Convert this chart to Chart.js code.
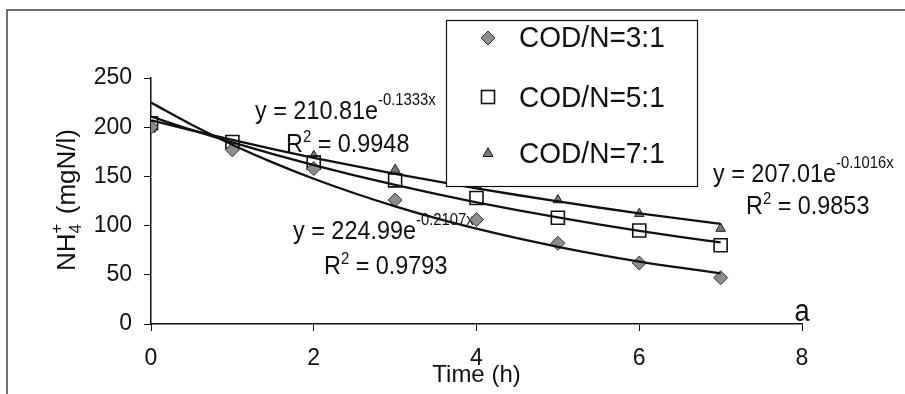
<!DOCTYPE html>
<html>
<head>
<meta charset="utf-8">
<script src="https://cdn.jsdelivr.net/npm/chart.js@4/dist/chart.umd.min.js"></script>
<style>
  html, body { margin: 0; padding: 0; background: #ffffff; }
  #wrap { width: 905px; height: 394px; position: relative; }
</style>
</head>
<body>
<div id="wrap"><canvas id="c" width="905" height="394"></canvas></div>
<script>
// ---- data ----
const timeH = [0, 1, 2, 3, 4, 5, 6, 7];
const codn3 = [200, 177, 158, 126, 106, 82, 62, 47];
const codn5 = [204, 185, 164, 146, 128, 108, 95, 80];
const codn7 = [198, 183, 171, 157, 141, 126, 112, 97];

// trend curves as traced on the picture
const fitX = [0, 0.5, 1, 1.5, 2, 2.5, 3, 3.5, 4, 4.5, 5, 5.5, 6, 6.5, 7];
const fit3 = [225.0, 202.5, 182.2, 164.0, 147.6, 132.9, 119.6, 107.6, 96.9, 87.2, 78.5, 70.6, 63.5, 57.2, 51.5];
const fit5 = [210.8, 197.2, 184.5, 172.6, 161.5, 151.1, 141.3, 132.2, 123.7, 115.7, 108.3, 101.3, 94.7, 88.6, 82.9];
const fit7 = [207.0, 196.8, 187.0, 177.7, 168.9, 160.6, 152.6, 145.1, 137.9, 131.1, 124.6, 118.4, 112.5, 107.0, 101.7];

const seriesNames = ["COD/N=3:1", "COD/N=5:1", "COD/N=7:1"];
const eqMain = ["y = 210.81e", "y = 224.99e", "y = 207.01e"];
const eqExp = ["-0.1333x", "-0.2107x", "-0.1016x"];
const eqR2 = [" = 0.9948", " = 0.9793", " = 0.9853"];
const xTitle = "Time (h)";
const yTitleParts = ["NH", "4", "+", " (mgN/l)"];
const panelLabel = "a";

const FONT = '"Liberation Sans", Arial, Helvetica, sans-serif';
const HS = 0.9;

function pts(xs, ys) { return xs.map((x, i) => ({ x: x, y: ys[i] })); }

function drawSegs(ctx, x, baseline, segs, hs) {
  ctx.save();
  ctx.translate(x, baseline);
  ctx.scale(hs, 1);
  ctx.textBaseline = 'alphabetic';
  ctx.textAlign = 'left';
  ctx.fillStyle = '#111';
  let cx = 0;
  segs.forEach(s => {
    ctx.font = s[1] + 'px ' + FONT;
    ctx.fillText(s[0], cx, s[2]);
    cx += ctx.measureText(s[0]).width;
  });
  ctx.restore();
}

const framePlugin = {
  id: 'frame',
  beforeDraw(chart) {
    const ctx = chart.ctx;
    ctx.save();
    ctx.strokeStyle = '#444';
    ctx.lineWidth = 1.5;
    ctx.beginPath();
    ctx.moveTo(7, 394);
    ctx.lineTo(7, 10);
    ctx.lineTo(905, 10);
    ctx.stroke();
    ctx.restore();
  }
};

const textPlugin = {
  id: 'eqText',
  beforeDatasetsDraw(chart) {
    const ctx = chart.ctx;
    const eqPos = [[255, 119, 286, 152], [293, 239, 324, 274], [713, 182, 746, 214]];
    eqPos.forEach((p, i) => {
      drawSegs(ctx, p[0], p[1], [[eqMain[i], 26, 0], [eqExp[i], 16.5, -14]], HS);
      drawSegs(ctx, p[2], p[3], [["R", 26, 0], ["2", 16.5, -10], [eqR2[i], 26, 0]], HS);
    });
    ctx.save();
    ctx.translate(802, 321);
    ctx.scale(0.88, 1);
    ctx.font = '31px ' + FONT;
    ctx.fillStyle = '#111';
    ctx.textAlign = 'center';
    ctx.fillText(panelLabel, 0, 0);
    ctx.restore();
    // y title with sub/superscript
    ctx.save();
    ctx.translate(67, 201);
    ctx.rotate(-Math.PI / 2);
    ctx.fillStyle = '#111';
    ctx.textBaseline = 'alphabetic';
    ctx.textAlign = 'left';
    const big = '26px ' + FONT, small = '17px ' + FONT;
    ctx.font = big;
    const w1 = ctx.measureText(yTitleParts[0]).width;
    const w4 = ctx.measureText(yTitleParts[3]).width;
    ctx.font = small;
    const w2 = Math.max(ctx.measureText(yTitleParts[1]).width, ctx.measureText(yTitleParts[2]).width);
    const total = w1 + w2 + w4;
    let x = -total / 2;
    const bl = 8;
    ctx.font = big;
    ctx.fillText(yTitleParts[0], x, bl);
    x += w1;
    ctx.font = small;
    ctx.fillText(yTitleParts[1], x, bl + 6);
    ctx.fillText(yTitleParts[2], x, bl - 13);
    x += w2 + 2;
    ctx.font = big;
    ctx.fillText(yTitleParts[3], x, bl);
    ctx.restore();
  }
};

function diamond(ctx, x, y, r) {
  ctx.beginPath();
  ctx.moveTo(x, y - r); ctx.lineTo(x + r, y); ctx.lineTo(x, y + r); ctx.lineTo(x - r, y); ctx.closePath();
}

const legendPlugin = {
  id: 'boxLegend',
  afterDatasetsDraw(chart) {
    const ctx = chart.ctx;
    ctx.save();
    ctx.fillStyle = '#fff';
    ctx.fillRect(446, 20, 251, 166);
    ctx.strokeStyle = '#111';
    ctx.lineWidth = 1.2;
    ctx.strokeRect(446.5, 20.5, 251, 166);
    const rows = [38, 97, 153];
    const base = [47, 107, 163];
    const mx = 488;
    diamond(ctx, mx, rows[0], 7);
    ctx.fillStyle = '#8c8c8c'; ctx.fill();
    ctx.strokeStyle = '#333'; ctx.lineWidth = 1; ctx.stroke();
    ctx.fillStyle = '#fff'; ctx.strokeStyle = '#111'; ctx.lineWidth = 1.6;
    ctx.fillRect(mx - 6.5, rows[1] - 6.5, 13, 13);
    ctx.strokeRect(mx - 6.5, rows[1] - 6.5, 13, 13);
    ctx.beginPath();
    ctx.moveTo(mx, rows[2] - 5.5); ctx.lineTo(mx + 5, rows[2] + 3.5); ctx.lineTo(mx - 5, rows[2] + 3.5); ctx.closePath();
    ctx.fillStyle = '#777'; ctx.fill();
    ctx.strokeStyle = '#222'; ctx.lineWidth = 1; ctx.stroke();
    ctx.restore();
    seriesNames.forEach((n, i) => drawSegs(ctx, 519, base[i], [[n, 30, 0]], 0.935));
  }
};

new Chart(document.getElementById('c'), {
  type: 'scatter',
  data: {
    datasets: [
      { type: 'line', label: 'fit3', data: pts(fitX, fit3), borderColor: '#111', borderWidth: 2.3, pointRadius: 0, fill: false, cubicInterpolationMode: 'monotone', order: 0 },
      { type: 'line', label: 'fit5', data: pts(fitX, fit5), borderColor: '#111', borderWidth: 2.3, pointRadius: 0, fill: false, cubicInterpolationMode: 'monotone', order: 0 },
      { type: 'line', label: 'fit7', data: pts(fitX, fit7), borderColor: '#111', borderWidth: 2.3, pointRadius: 0, fill: false, cubicInterpolationMode: 'monotone', order: 0 },
      { label: seriesNames[0], data: pts(timeH, codn3), pointStyle: 'rectRot', pointRadius: 7, pointBackgroundColor: '#8c8c8c', pointBorderColor: '#333', pointBorderWidth: 1, showLine: false, order: 1 },
      { label: seriesNames[1], data: pts(timeH, codn5), pointStyle: 'rect', pointRadius: 9.2, pointBackgroundColor: '#fff', pointBorderColor: '#111', pointBorderWidth: 1.6, showLine: false, order: 2 },
      { label: seriesNames[2], data: pts(timeH, codn7), pointStyle: 'triangle', pointRadius: 5.5, pointBackgroundColor: '#777', pointBorderColor: '#222', pointBorderWidth: 1, showLine: false, order: 3 }
    ]
  },
  options: {
    responsive: false,
    devicePixelRatio: 1,
    animation: false,
    events: [],
    layout: { padding: { left: 0, right: 103, top: 78, bottom: 0 } },
    plugins: { legend: { display: false }, tooltip: { enabled: false } },
    scales: {
      x: {
        type: 'linear', min: 0, max: 8,
        afterFit(s) { s.height = 70; },
        ticks: { stepSize: 2, color: '#111', padding: 14, font: { size: 23, family: FONT }, maxRotation: 0 },
        grid: { drawOnChartArea: false, drawTicks: true, tickLength: 7, color: '#111', lineWidth: 1 },
        border: { display: true, color: '#111', width: 1.5 },
        title: { display: true, text: xTitle, color: '#111', font: { size: 24, family: FONT }, padding: { top: 0, bottom: 4 } }
      },
      y: {
        type: 'linear', min: 0, max: 250,
        afterFit(s) { s.width = 151; },
        ticks: { stepSize: 50, color: '#111', padding: 12, font: { size: 23, family: FONT } },
        grid: { drawOnChartArea: false, drawTicks: true, tickLength: 7, color: '#111', lineWidth: 1 },
        border: { display: true, color: '#111', width: 1.5 }
      }
    }
  },
  plugins: [framePlugin, textPlugin, legendPlugin]
});
</script>
</body>
</html>
